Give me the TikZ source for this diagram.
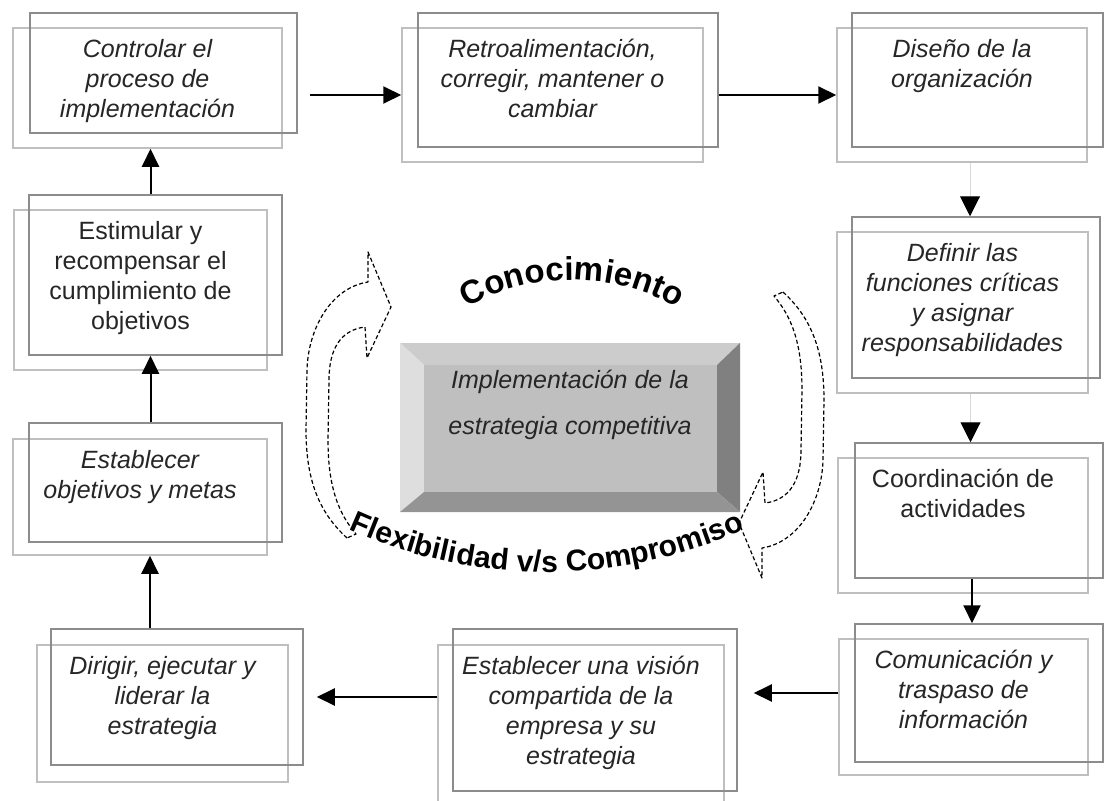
\documentclass[tikz,border=0pt]{standalone}
\usepackage{fontspec}
\setmainfont{Liberation Sans}
\usetikzlibrary{arrows.meta,positioning,calc,decorations.text}
\newcommand\curvo{\fontsize{30}{30}\selectfont\bfseries}
\newcommand\curvog{\fontsize{33}{33}\selectfont\bfseries}

\begin{document}
\begin{tikzpicture}[x=1pt,y=1pt,
  marcoA/.style={draw=black!45, line width=1.5pt, inner sep=0},
  marcoB/.style={draw=black!25, line width=1.5pt, inner sep=0},
  texto/.style={inner sep=0, align=center, text=black!85, font=\fontsize{25}{30}\selectfont},
  textoit/.style={texto, font=\fontsize{25}{30}\selectfont\itshape},
  flecha/.style={line width=2pt, -{Triangle[length=18pt,width=17pt]}},
  flechita/.style={line width=1pt, black!15, -{Triangle[length=20pt,width=20pt,color=black]}},
  ciclo/.style={line width=1.2pt, dash pattern=on 4pt off 2.5pt, line join=round}]

\useasboundingbox (0,0) rectangle (1105,-800);

\node[marcoB, minimum width=269pt, minimum height=120pt] (B1) at (147.5,-88) {};
\node[marcoA, minimum width=267pt, minimum height=120pt] (A1) at (163.5,-73) {};
\node[textoit, below=12pt of B1.north] (T1) {Controlar el\\proceso de\\implementación};

\node[marcoB, minimum width=301pt, minimum height=134pt] (B2) at (552.5,-95) {};
\node[marcoA, minimum width=300pt, minimum height=134pt] (A2) at (568,-80) {};
\node[textoit, below=12pt of B2.north] (T2) {Retroalimentación,\\corregir, mantener o\\cambiar};

\node[marcoB, minimum width=250pt, minimum height=134pt] (B3) at (962,-95) {};
\node[marcoA, minimum width=251pt, minimum height=134pt] (A3) at (977.5,-80) {};
\node[textoit, below=12pt of B3.north] (T3) {Diseño de la\\organización};

\node[marcoB, minimum width=251pt, minimum height=161pt] (B4) at (962.5,-312.5) {};
\node[marcoA, minimum width=248pt, minimum height=161pt] (A4) at (976,-297.5) {};
\node[textoit, below=12pt of B4.north] (T4) {Definir las\\funciones críticas\\y asignar\\responsabilidades};

\node[marcoB, minimum width=250pt, minimum height=135pt] (B5) at (963,-525.5) {};
\node[marcoA, minimum width=248pt, minimum height=135pt] (A5) at (979,-510.5) {};
\node[texto, below=12pt of B5.north] (T5) {Coordinación de\\actividades};

\node[marcoB, minimum width=249pt, minimum height=136pt] (B6) at (963.5,-707) {};
\node[marcoA, minimum width=248pt, minimum height=138pt] (A6) at (979,-693) {};
\node[textoit, below=12pt of B6.north] (T6) {Comunicación y\\traspaso de\\información};

\node[marcoB, minimum width=286pt, minimum height=162pt] (B7) at (581,-726) {};
\node[marcoA, minimum width=284pt, minimum height=162pt] (A7) at (595,-710) {};
\node[textoit, below=12pt of B7.north] (T7) {Establecer una visión\\compartida de la\\empresa y su\\estrategia};

\node[marcoB, minimum width=251pt, minimum height=137pt] (B8) at (162.5,-713.5) {};
\node[marcoA, minimum width=252pt, minimum height=136pt] (A8) at (177,-697) {};
\node[textoit, below=12pt of B8.north] (T8) {Dirigir, ejecutar y\\liderar la\\estrategia};

\node[marcoB, minimum width=254pt, minimum height=116pt] (B9) at (140,-497) {};
\node[marcoA, minimum width=253pt, minimum height=119pt] (A9) at (155.5,-482.5) {};
\node[textoit, below=12pt of B9.north] (T9) {Establecer\\objetivos y metas};

\node[marcoB, minimum width=253pt, minimum height=160pt] (B10) at (140.5,-290) {};
\node[marcoA, minimum width=253pt, minimum height=160pt] (A10) at (155.5,-275) {};
\node[texto, below=12pt of B10.north] (T10) {Estimular y\\recompensar el\\cumplimiento de\\objetivos};

\draw[flecha, shorten <=12pt] (A1.east |- B2.west) -- (B2.west);
\draw[flecha] (A2.east |- B3.west) -- (B3.west);
\draw[flechita] ([xshift=8pt]B3.south) -- ([xshift=8pt]B3.south |- A4.north);
\draw[flechita] ([xshift=8pt]B4.south) -- ([xshift=8pt]B4.south |- A5.north);
\draw[flecha] ([xshift=-7pt]A5.south) -- ([xshift=-7pt]A5.south |- A6.north);
\draw[flecha, shorten >=16pt] (B6.west |- A6.west) -- (A7.east |- A6.west);
\draw[flecha, shorten >=13pt] (B7.west |- A8.east) -- (A8.east);
\draw[flecha] ([xshift=10pt]B9.south |- A8.north) -- ([xshift=10pt]B9.south);
\draw[flecha] ([xshift=10pt]B10.south |- A9.north) -- ([xshift=10pt]B10.south |- A10.south);
\draw[flecha] ([xshift=3pt]B1.south |- A10.north) -- ([xshift=3pt]B1.south);

\fill[black!20] (400,-343) -- (740,-343) -- (717,-365) -- (424,-365) -- cycle;
\fill[black!13] (400,-343) -- (424,-365) -- (424,-492) -- (400,-512) -- cycle;
\fill[black!50] (740,-343) -- (740,-512) -- (717,-492) -- (717,-365) -- cycle;
\fill[black!42] (400,-512) -- (740,-512) -- (717,-492) -- (424,-492) -- cycle;
\node[fill=black!25, minimum width=293pt, minimum height=127pt, inner sep=0] (C) at (570.5,-428.5) {};
\node[inner sep=0, align=center, text=black!85, font=\fontsize{25}{46}\selectfont\itshape] (TC) at (570,-405) {Implementación de la\\estrategia competitiva};

\draw[ciclo] (347,-538) .. controls (322,-515) and (306,-485) .. (306,-430) -- (307,-370)
  .. controls (308,-330) and (330,-288) .. (368,-282) -- (368,-252) -- (391,-307) -- (367,-358) -- (365,-327)
  .. controls (340,-330) and (329,-350) .. (329,-380) -- (328,-440)
  .. controls (328,-490) and (340,-515) .. (356,-534) -- cycle;
\draw[ciclo, rotate around={180:(565,-415)}] (347,-538) .. controls (322,-515) and (306,-485) .. (306,-430) -- (307,-370)
  .. controls (308,-330) and (330,-288) .. (368,-282) -- (368,-252) -- (391,-307) -- (367,-358) -- (365,-327)
  .. controls (340,-330) and (329,-350) .. (329,-380) -- (328,-440)
  .. controls (328,-490) and (340,-515) .. (356,-534) -- cycle;

\path[decorate, decoration={text along path, text align=center, text={|\curvog|Conocimiento}}]
  (448.7,-318.9) arc[start angle=125, end angle=55, radius=215];
\path[decorate, decoration={text along path, text align=center, text={|\curvo|Flexibilidad v/s Compromiso}}]
  (278.6,-490) arc[start angle=236, end angle=304, radius=480];
\end{tikzpicture}
\end{document}
